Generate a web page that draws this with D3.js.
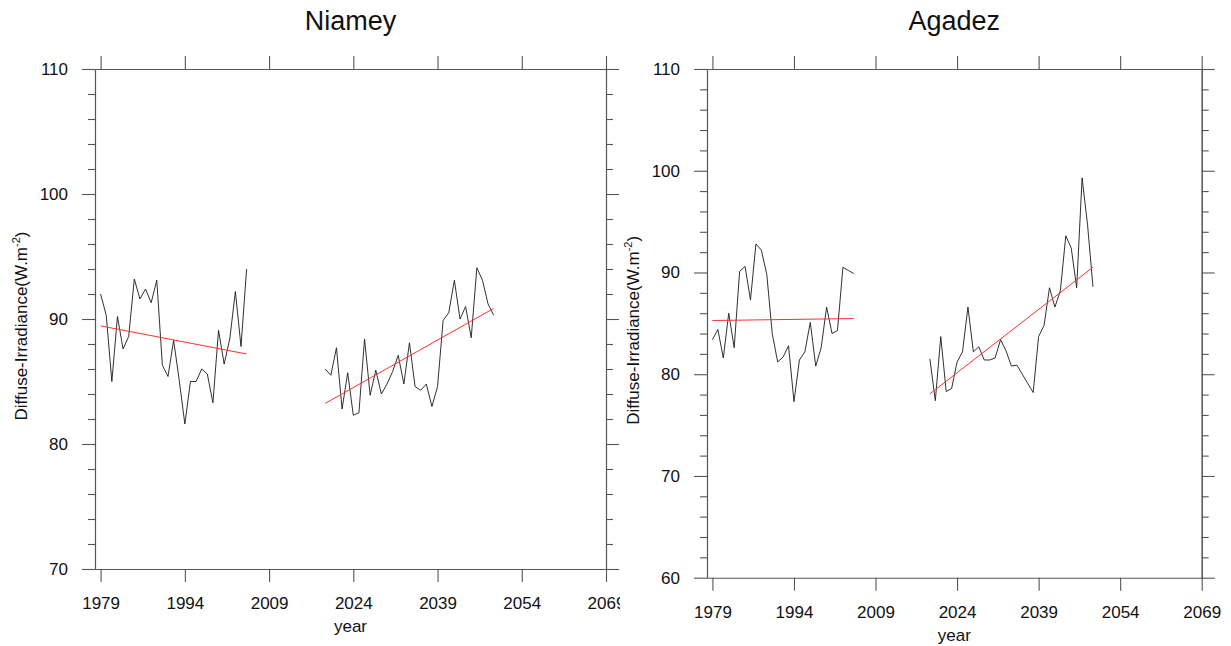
<!DOCTYPE html>
<html>
<head>
<meta charset="utf-8">
<script src="https://cdn.jsdelivr.net/npm/d3@7"></script>
<style>
  body { margin: 0; background: #fff; }
  svg { font-family: "Liberation Sans", Arial, sans-serif; }
</style>
</head>
<body>
<svg id="chart" width="1231" height="646"></svg>
<script>
// years of the two periods
const histYears = d3.range(1979, 2006)   // 1979..2005
const futYears = d3.range(2019, 2050)    // 2019..2049

// Niamey diffuse irradiance (W.m-2)
const niameyHist = [92.0, 90.3, 85.0, 90.2, 87.6, 88.6, 93.2, 91.6, 92.4, 91.3,
  93.1, 86.3, 85.4, 88.3, 85.1, 81.6, 85.0, 85.0, 86.0, 85.6,
  83.3, 89.1, 86.4, 88.4, 92.2, 87.8, 94.0]
const niameyFut = [86.0, 85.5, 87.7, 82.8, 85.7, 82.3, 82.5, 88.4, 83.9, 85.9,
  84.0, 84.8, 85.8, 87.1, 84.8, 88.1, 84.6, 84.3, 84.8, 83.0,
  84.6, 89.9, 90.5, 93.1, 90.0, 91.0, 88.5, 94.1, 93.1, 91.2, 90.3]
// Agadez diffuse irradiance (W.m-2)
const agadezHist = [83.4, 84.4, 81.6, 86.0, 82.6, 90.1, 90.6, 87.3, 92.8, 92.2,
  89.8, 84.0, 81.2, 81.7, 82.8, 77.3, 81.4, 82.2, 85.1, 80.8,
  82.6, 86.6, 84.0, 84.3, 90.5, 90.2, 89.9]
const agadezFut = [81.5, 77.4, 83.7, 78.3, 78.6, 81.2, 82.2, 86.6, 82.2, 82.7,
  81.4, 81.4, 81.6, 83.4, 82.3, 80.8, 80.9, 80.0, 79.1, 78.2,
  83.7, 84.8, 88.5, 86.6, 88.2, 93.6, 92.4, 88.5, 99.3, 94.7, 88.6]

// trend lines: [start value, end value] for each period
const niameyTrendHist = [89.45, 87.2]
const niameyTrendFut = [83.25, 90.85]
const agadezTrendHist = [85.28, 85.47]
const agadezTrendFut = [78.07, 90.52]

const xTicks = [1979, 1994, 2009, 2024, 2039, 2054, 2069]
const xDomain = [1978, 2069]

const svg = d3.select('#chart')
const lineColor = '#1a1a1a'
const frameColor = '#555'

function drawPanel(p) {
  const x = d3.scaleLinear().domain(xDomain).range([p.left, p.right])
  const y = d3.scaleLinear().domain(p.yDomain).range([p.bottom, p.top])
  const g = svg.append('g')

  const majorY = d3.range(p.yDomain[0], p.yDomain[1] + 1, 10)
  const minorY = d3.range(p.yDomain[0], p.yDomain[1] + 0.1, 2).filter(v => v % 10 != 0)

  // minor y ticks, both sides
  g.append('g').attr('transform', `translate(${p.left},0)`)
    .call(d3.axisLeft(y).tickValues(minorY).tickSize(7).tickSizeOuter(0).tickFormat(''))
  g.append('g').attr('transform', `translate(${p.right},0)`)
    .call(d3.axisRight(y).tickValues(minorY).tickSize(7).tickSizeOuter(0).tickFormat(''))

  // major y ticks
  g.append('g').attr('class', 'yaxis').attr('transform', `translate(${p.left},0)`)
    .call(d3.axisLeft(y).tickValues(majorY).tickSize(13).tickSizeOuter(0).tickPadding(14))
  g.append('g').attr('transform', `translate(${p.right},0)`)
    .call(d3.axisRight(y).tickValues(majorY).tickSize(13).tickSizeOuter(0).tickFormat(''))

  // x ticks top and bottom
  g.append('g').attr('class', 'xaxis').attr('transform', `translate(0,${p.bottom})`)
    .call(d3.axisBottom(x).tickValues(xTicks).tickSize(13).tickSizeOuter(0).tickPadding(15).tickFormat(d3.format('d')))
  g.append('g').attr('transform', `translate(0,${p.top})`)
    .call(d3.axisTop(x).tickValues(xTicks).tickSize(13).tickSizeOuter(0).tickFormat(''))

  g.selectAll('.domain, .tick line').attr('stroke', frameColor).attr('stroke-width', 1.1)
  g.selectAll('.tick text').attr('font-size', 17).attr('fill', '#111')
    .attr('font-family', '"Liberation Sans", Arial, sans-serif')

  // clip the last x label like the original figure does on the left panel
  if (p.clip) {
    svg.append('clipPath').attr('id', 'clip-' + p.name)
      .append('rect').attr('x', 0).attr('y', 0).attr('width', p.clip).attr('height', 646)
    g.select('.xaxis').attr('clip-path', `url(#clip-${p.name})`)
  }

  const line = d3.line().x(d => x(d[0])).y(d => y(d[1]))

  g.append('path').datum(histYears.map((yr, i) => [yr, p.hist[i]]))
    .attr('d', line).attr('fill', 'none').attr('stroke', lineColor).attr('stroke-width', 0.9)
  g.append('path').datum(futYears.map((yr, i) => [yr, p.fut[i]]))
    .attr('d', line).attr('fill', 'none').attr('stroke', lineColor).attr('stroke-width', 0.9)

  // red trend lines
  const tH = [[histYears[0], p.trendHist[0]], [histYears[histYears.length - 1], p.trendHist[1]]]
  const tF = [[futYears[0], p.trendFut[0]], [futYears[futYears.length - 1], p.trendFut[1]]]
  g.append('path').datum(tH).attr('d', line).attr('fill', 'none').attr('stroke', '#ff3030').attr('stroke-width', 1)
  g.append('path').datum(tF).attr('d', line).attr('fill', 'none').attr('stroke', '#ff3030').attr('stroke-width', 1)

  // title
  const cx = (p.left + p.right) / 2
  svg.append('text').attr('x', cx).attr('y', 30).attr('text-anchor', 'middle')
    .attr('font-size', 27).attr('fill', '#111').text(p.name)

  // x label
  svg.append('text').attr('x', cx).attr('y', p.bottom + 63).attr('text-anchor', 'middle')
    .attr('font-size', 17).attr('fill', '#111').text('year')

  // y label with superscript
  const cy = (p.top + p.bottom) / 2 + 7
  const yl = svg.append('text')
    .attr('transform', `translate(${p.left - 68},${cy}) rotate(-90)`)
    .attr('text-anchor', 'middle').attr('font-size', 17).attr('fill', '#111')
  yl.append('tspan').text('Diffuse-Irradiance(W.m')
  yl.append('tspan').attr('dy', -7).attr('font-size', 11).text('-2')
  yl.append('tspan').attr('dy', 7).text(')')
}

drawPanel({
  name: 'Niamey', left: 95, right: 606, top: 69, bottom: 569,
  yDomain: [70, 110], hist: niameyHist, fut: niameyFut,
  trendHist: niameyTrendHist, trendFut: niameyTrendFut, clip: 620
})

drawPanel({
  name: 'Agadez', left: 707, right: 1201.7, top: 69, bottom: 577.7,
  yDomain: [60, 110], hist: agadezHist, fut: agadezFut,
  trendHist: agadezTrendHist, trendFut: agadezTrendFut
})
</script>
</body>
</html>
